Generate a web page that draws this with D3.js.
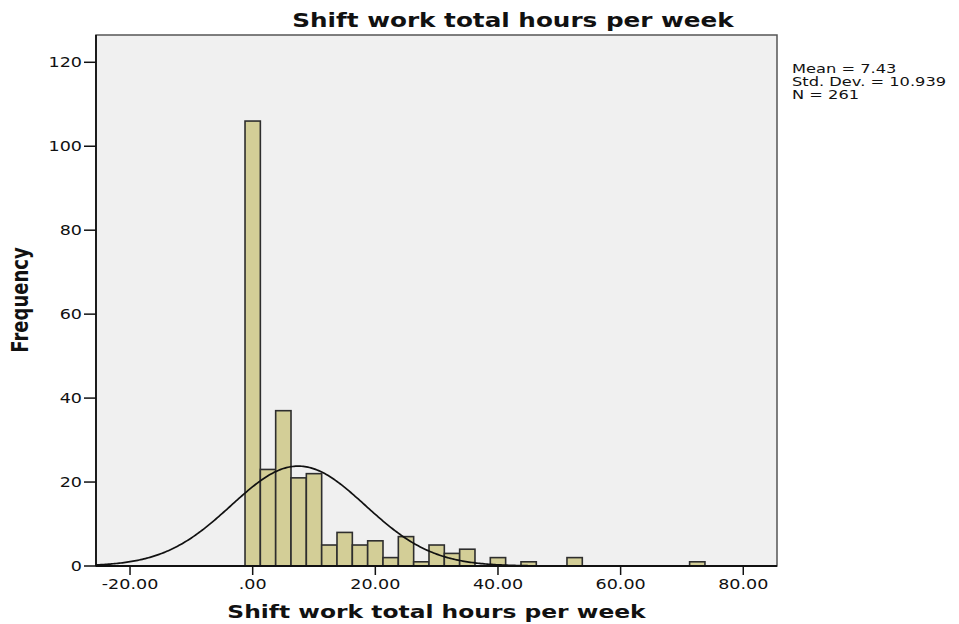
<!DOCTYPE html>
<html lang="en">
<head>
<meta charset="utf-8">
<title>Shift work total hours per week</title>
<script src="https://cdn.jsdelivr.net/npm/d3@7"></script>
<style>
  body { margin: 0; background: #fff; }
  text { font-family: "DejaVu Sans", sans-serif; fill: #111; }
</style>
</head>
<body>
<div id="chart"></div>
<script>
// histogram bins (centre of each 2.5-hour bin) and their frequencies
var binCenters = [0, 2.5, 5, 7.5, 10, 12.5, 15, 17.5, 20, 22.5, 25, 27.5, 30, 32.5, 35, 40, 45, 52.5, 72.5]
var counts     = [106, 23, 37, 21, 22, 5, 8, 5, 6, 2, 7, 1, 5, 3, 4, 2, 1, 2, 1]
var binWidth = 2.5

var xTicks = [-20, 0, 20, 40, 60, 80]
var yTicks = [0, 20, 40, 60, 80, 100, 120]

var mean = 7.43, sd = 10.939, n = 261
var statsLines = ["Mean = 7.43", "Std. Dev. = 10.939", "N = 261"]

var w = 959, h = 624
// plot box edges (don't call these top/left, window.top is read only)
var pLeft = 96, pRight = 777, pTop = 35, pBottom = 566
var sx = 1.3 // the picture is stretched sideways, so is its text

var svg = d3.select("#chart").append("svg")
    .attr("width", w)
    .attr("height", h)

var xScale = d3.scaleLinear().domain([-25.55, 85.5]).range([pLeft, pRight])
var yScale = d3.scaleLinear().domain([0, 126.5]).range([pBottom, pTop])

// plot background
svg.append("rect")
    .attr("x", pLeft).attr("y", pTop)
    .attr("width", pRight - pLeft).attr("height", pBottom - pTop)
    .attr("fill", "#f0f0f0")
    .attr("stroke", "#555")
    .attr("stroke-width", 1.5)

// bars
var bins = binCenters.map(function(c, i) { return {c: c, v: counts[i]} })
svg.selectAll("rect.bar")
    .data(bins)
    .enter()
    .append("rect")
    .attr("class", "bar")
    .attr("x", function(d) { return xScale(d.c - binWidth / 2) })
    .attr("width", function(d) { return xScale(d.c + binWidth / 2) - xScale(d.c - binWidth / 2) })
    .attr("y", function(d) { return yScale(d.v) })
    .attr("height", function(d) { return yScale(0) - yScale(d.v) })
    .attr("fill", "#d3ce97")
    .attr("stroke", "#2e2e2e")
    .attr("stroke-width", 1.6)

// fitted normal curve from the reported mean / sd / N
var xs = d3.range(-25.5, 85.5, 0.25)
var normal = function(x) {
    return n * binWidth / (sd * Math.sqrt(2 * Math.PI)) * Math.exp(-0.5 * Math.pow((x - mean) / sd, 2))
}
svg.append("path")
    .datum(xs)
    .attr("d", d3.line().x(function(d) { return xScale(d) }).y(function(d) { return yScale(normal(d)) }))
    .attr("fill", "none")
    .attr("stroke", "#111")
    .attr("stroke-width", 1.7)

// axes lines
svg.append("line")
    .attr("x1", pLeft).attr("x2", pRight).attr("y1", pBottom).attr("y2", pBottom)
    .attr("stroke", "#111").attr("stroke-width", 1.8)
svg.append("line")
    .attr("x1", pLeft).attr("x2", pLeft).attr("y1", pTop).attr("y2", pBottom)
    .attr("stroke", "#111").attr("stroke-width", 1.8)

// x ticks
var xt = svg.selectAll("g.xtick").data(xTicks).enter().append("g")
    .attr("class", "xtick")
xt.append("line")
    .attr("x1", function(d) { return xScale(d) }).attr("x2", function(d) { return xScale(d) })
    .attr("y1", pBottom).attr("y2", pBottom + 9)
    .attr("stroke", "#111").attr("stroke-width", 1.5)
xt.append("text")
    .attr("transform", function(d) { return "translate(" + xScale(d) + "," + (pBottom + 23) + ") scale(" + sx + ",1)" })
    .attr("text-anchor", "middle")
    .attr("font-size", "13.5px")
    .text(function(d) { return d === 0 ? ".00" : d3.format(".2f")(d).replace("−", "-") })

// y ticks
var yt = svg.selectAll("g.ytick").data(yTicks).enter().append("g")
    .attr("class", "ytick")
yt.append("line")
    .attr("x1", pLeft - 12).attr("x2", pLeft)
    .attr("y1", function(d) { return yScale(d) }).attr("y2", function(d) { return yScale(d) })
    .attr("stroke", "#111").attr("stroke-width", 1.5)
yt.append("text")
    .attr("transform", function(d) { return "translate(" + (pLeft - 14) + "," + yScale(d) + ") scale(" + sx + ",1)" })
    .attr("text-anchor", "end")
    .attr("dy", "0.36em")
    .attr("font-size", "13.5px")
    .text(function(d) { return d })

// title and axis labels
svg.append("text")
    .attr("transform", "translate(513,27) scale(" + sx + ",1)")
    .attr("text-anchor", "middle")
    .attr("font-size", "19px")
    .attr("font-weight", "bold")
    .text("Shift work total hours per week")

svg.append("text")
    .attr("transform", "translate(" + ((pLeft + pRight) / 2) + ",618) scale(" + sx + ",1)")
    .attr("text-anchor", "middle")
    .attr("font-size", "18px")
    .attr("font-weight", "bold")
    .text("Shift work total hours per week")

svg.append("text")
    .attr("transform", "translate(28,300) scale(" + sx + ",1) rotate(-90)")
    .attr("text-anchor", "middle")
    .attr("font-size", "18px")
    .attr("font-weight", "bold")
    .text("Frequency")

// stats box
svg.selectAll("text.stat")
    .data(statsLines)
    .enter()
    .append("text")
    .attr("class", "stat")
    .attr("transform", function(d, i) { return "translate(792," + (73 + i * 13) + ") scale(" + sx + ",1)" })
    .attr("font-size", "12.5px")
    .text(function(d) { return d })
</script>
</body>
</html>
